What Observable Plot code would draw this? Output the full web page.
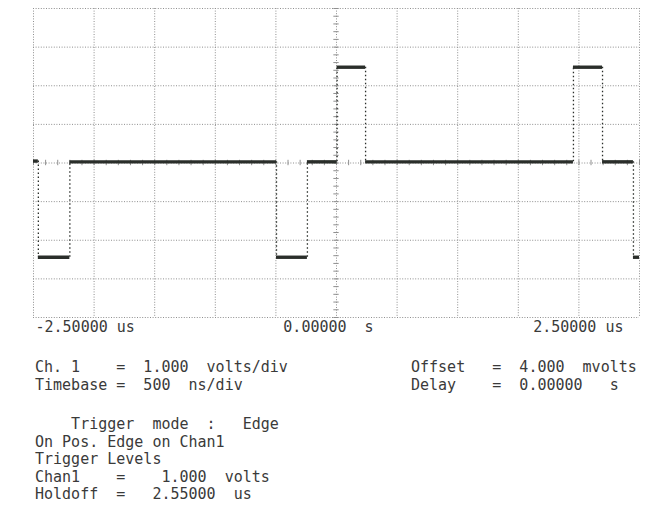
<!DOCTYPE html>
<html>
<head>
<meta charset="utf-8">
<script src="https://cdn.jsdelivr.net/npm/d3@7"></script>
<script src="https://cdn.jsdelivr.net/npm/@observablehq/plot@0.6"></script>
<style>
  html, body { margin: 0; padding: 0; background: #fff; }
  #wrap { position: relative; width: 654px; height: 511px; overflow: hidden; background: #fff; }
  #chart { position: absolute; left: 0; top: 0; }
  .ln { position: absolute; white-space: pre; font-family: "DejaVu Sans Mono", monospace; font-size: 15px; color: #3a3a3a; line-height: 1; }
</style>
</head>
<body>
<div id="wrap"><div id="chart"></div></div>
<script>
// ---- data ----
// time axis (microseconds) and volts axis
const gridTimes = [-2.5, -2.0, -1.5, -1.0, -0.5, 0, 0.5, 1.0, 1.5, 2.0, 2.5];
const gridVolts = [-4, -3, -2, -1, 0, 1, 2, 3, 4];
const timeTicks = [-2.5, 0, 2.5];
const timeTickLabels = ["-2.50000 us", "0.00000  s", "2.50000 us"];

// trace: transition times (us) and the level held between consecutive transitions (V)
const edgeTimes = [-2.5, -2.46, -2.20, -0.495, -0.24, 0.005, 0.24, 1.955, 2.195, 2.45, 2.5];
const levelVolts = [0.05, -2.44, 0.03, -2.44, 0.03, 2.48, 0.03, 2.48, 0.03, -2.44];

// text block
const infoLeft = ["Ch. 1    =  1.000  volts/div", "Timebase =  500  ns/div"];
const infoRight = ["Offset   =  4.000  mvolts", "Delay    =  0.00000   s"];
const triggerLines = ["    Trigger  mode  :   Edge", "On Pos. Edge on Chan1", "Trigger Levels", "Chan1    =    1.000  volts", "Holdoff  =   2.55000  us"];

// ---- build ----
const segments = levelVolts.map((v, i) => ({t1: edgeTimes[i], t2: edgeTimes[i + 1], v}));
const edges = levelVolts.slice(1).map((v, i) => ({t: edgeTimes[i + 1], v1: levelVolts[i], v2: v}));
const minorVolts = d3.range(-4, 4.001, 0.2);
const minorTimes = d3.range(-2.5, 2.501, 0.1);

const gridStyle = {stroke: "#8f8f8f", strokeWidth: 1, strokeDasharray: "1,1.6"};
const traceColor = "#2a2e2a";
const labelFont = {fontFamily: "DejaVu Sans Mono", fontSize: 15, fill: "#3a3a3a"};

const chart = Plot.plot({
  width: 654,
  height: 340,
  marginLeft: 33,
  marginRight: 15,
  marginTop: 8,
  marginBottom: 23,
  x: {domain: [-2.5, 2.5], axis: null},
  y: {domain: [-4, 4], axis: null},
  style: {background: "#fff", overflow: "visible"},
  marks: [
    Plot.ruleX(gridTimes, gridStyle),
    Plot.ruleY(gridVolts, gridStyle),
    Plot.ruleY(minorVolts, {y: d => d, x1: () => -0.022, x2: () => 0.022, stroke: "#8f8f8f", strokeWidth: 1}),
    Plot.ruleX(minorTimes, {x: d => d, y1: () => -0.07, y2: () => 0.07, stroke: "#8f8f8f", strokeWidth: 1}),
    Plot.ruleX(edges, {x: "t", y1: "v1", y2: "v2", stroke: traceColor, strokeWidth: 1.3, strokeDasharray: "1.5,2.5"}),
    Plot.ruleY(segments, {y: "v", x1: "t1", x2: "t2", stroke: traceColor, strokeWidth: 3.4}),
    Plot.text([0], {x: i => timeTicks[i], y: () => -4, text: i => timeTickLabels[i], textAnchor: "start", dx: 2, dy: 10, ...labelFont}),
    Plot.text([1], {x: i => timeTicks[i], y: () => -4, text: i => timeTickLabels[i], textAnchor: "middle", dx: -8, dy: 10, ...labelFont}),
    Plot.text([2], {x: i => timeTicks[i], y: () => -4, text: i => timeTickLabels[i], textAnchor: "end", dx: -16, dy: 10, ...labelFont})
  ]
});
document.getElementById("chart").appendChild(chart);

const wrap = document.getElementById("wrap");
function addLine(text, left, top) {
  const d = document.createElement("div");
  d.className = "ln";
  d.textContent = text;
  d.style.left = left + "px";
  d.style.top = top + "px";
  wrap.appendChild(d);
}
infoLeft.forEach((s, i) => addLine(s, 35, 360 + i * 17.5));
infoRight.forEach((s, i) => addLine(s, 411, 360 + i * 17.5));
triggerLines.forEach((s, i) => addLine(s, 35, 417 + i * 17.5));
</script>
</body>
</html>
